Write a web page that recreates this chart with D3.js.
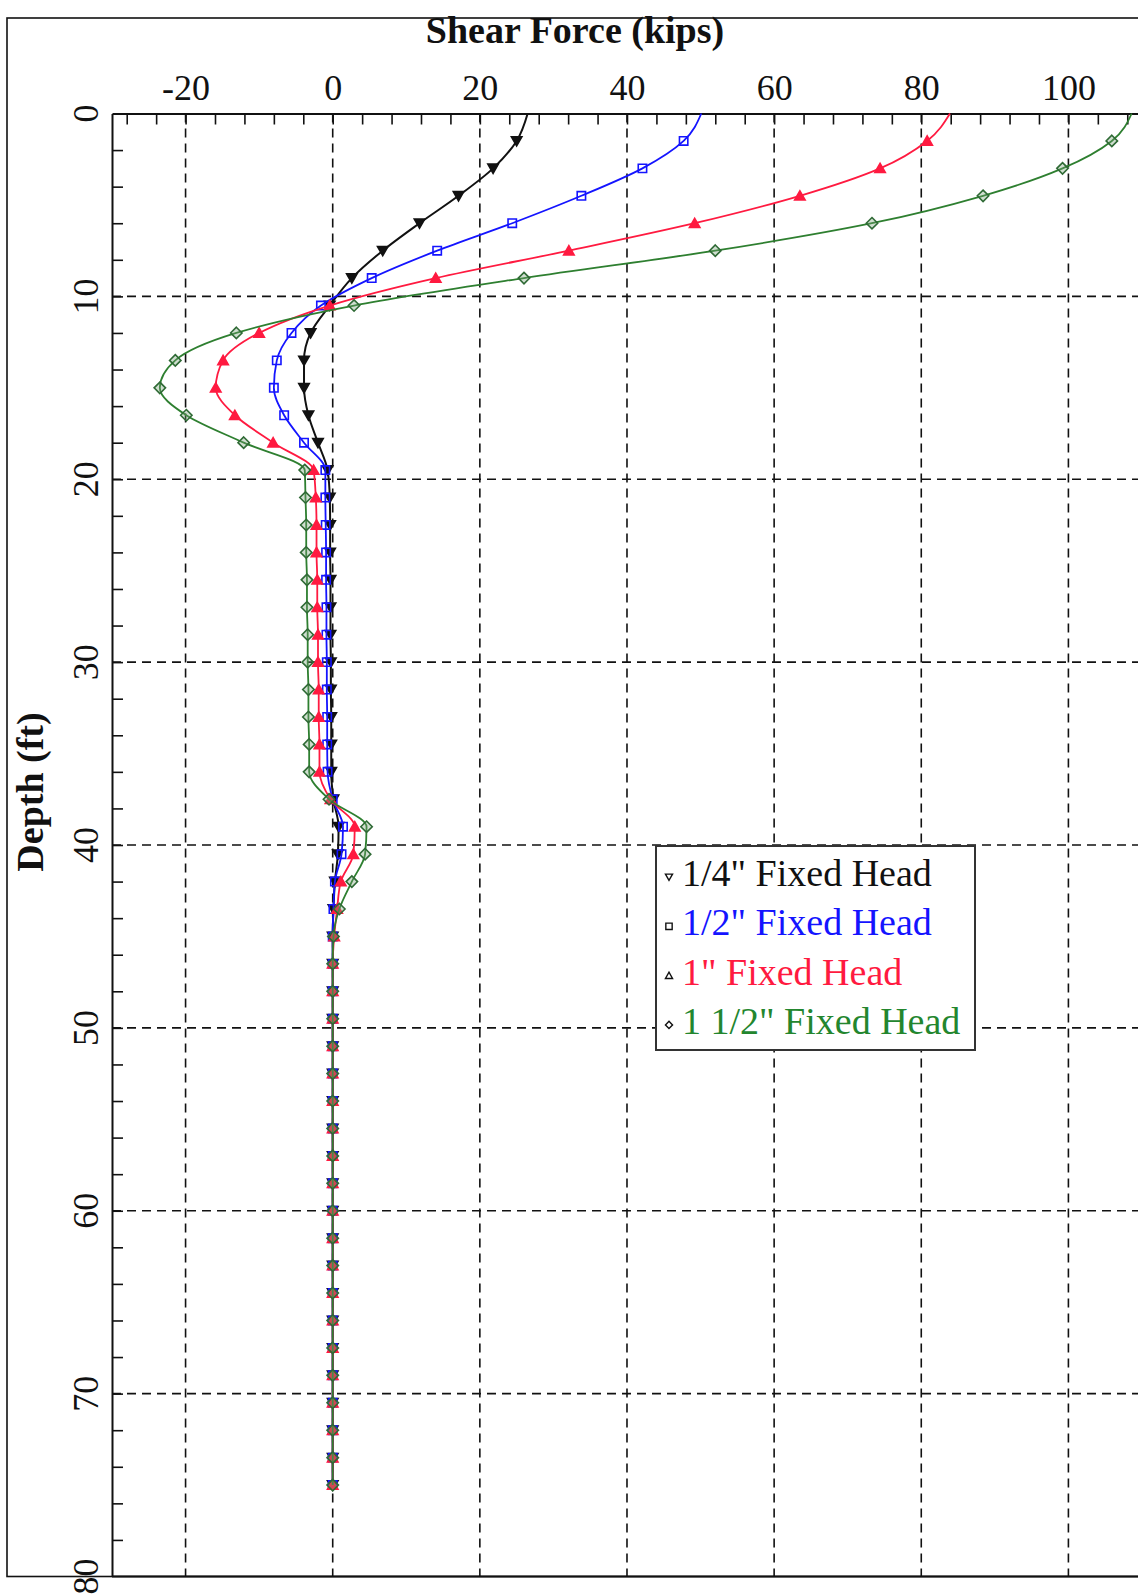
<!DOCTYPE html>
<html>
<head>
<meta charset="utf-8">
<script src="https://cdn.jsdelivr.net/npm/d3@7"></script>
<style>
  html, body { margin: 0; padding: 0; background: #fff; }
  svg { display: block; font-family: "Liberation Serif", "Times New Roman", serif; }
</style>
</head>
<body>
<svg id="chart" width="1138" height="1596"></svg>
<script>
// Depth below pile head (ft) at which shear was reported
const depths = [0, 1.5, 3, 4.5, 6, 7.5, 9, 10.5, 12, 13.5, 15, 16.5, 18, 19.5,
  21, 22.5, 24, 25.5, 27, 28.5, 30, 31.5, 33, 34.5, 36,
  37.5, 39, 40.5, 42, 43.5, 45,
  46.5, 48, 49.5, 51, 52.5, 54, 55.5, 57, 58.5, 60, 61.5, 63, 64.5, 66, 67.5, 69, 70.5, 72, 73.5, 75];

// Shear force (kips) for each head displacement case
const shearQuarter = [26.5, 25.0, 21.8, 17.1, 11.8, 6.8, 2.6, -0.4, -3.0, -3.9, -3.9, -3.3, -2.0, -0.7,
  -0.4, -0.35, -0.35, -0.3, -0.3, -0.3, -0.25, -0.25, -0.2, -0.2, -0.2,
  0.1, 0.8, 0.7, 0.3, 0.1, 0.0,
  0, 0, 0, 0, 0, 0, 0, 0, 0, 0, 0, 0, 0, 0, 0, 0, 0, 0, 0, 0];
const shearHalf = [50.1, 47.7, 42.1, 33.8, 24.4, 14.2, 5.3, -1.6, -5.6, -7.6, -8.0, -6.6, -3.9, -1.0,
  -1.0, -0.95, -0.9, -0.9, -0.85, -0.85, -0.8, -0.8, -0.75, -0.75, -0.7,
  0.0, 1.4, 1.2, 0.3, 0.1, 0.0,
  0, 0, 0, 0, 0, 0, 0, 0, 0, 0, 0, 0, 0, 0, 0, 0, 0, 0, 0, 0];
const shearOne = [83.9, 80.8, 74.4, 63.5, 49.2, 32.1, 14.0, -0.4, -10.0, -14.9, -15.9, -13.3, -8.1, -2.6,
  -2.3, -2.2, -2.2, -2.1, -2.1, -2.0, -2.0, -1.9, -1.9, -1.8, -1.8,
  -0.3, 3.0, 2.8, 1.1, 0.6, 0.2,
  0, 0, 0, 0, 0, 0, 0, 0, 0, 0, 0, 0, 0, 0, 0, 0, 0, 0, 0, 0];
const shearOneHalf = [108.6, 105.9, 99.2, 88.4, 73.3, 52.0, 26.0, 2.9, -13.1, -21.4, -23.5, -19.9, -12.1, -3.8,
  -3.7, -3.6, -3.6, -3.5, -3.5, -3.4, -3.4, -3.3, -3.3, -3.2, -3.2,
  -0.5, 4.6, 4.4, 2.6, 0.9, 0.1,
  0, 0, 0, 0, 0, 0, 0, 0, 0, 0, 0, 0, 0, 0, 0, 0, 0, 0, 0, 0];

const seriesNames = ['1/4" Fixed Head', '1/2" Fixed Head', '1" Fixed Head', '1 1/2" Fixed Head'];

// Axis ticks
const xTickLabels = [-20, 0, 20, 40, 60, 80, 100];
const xMinorTicks = [-28, -24, -20, -16, -12, -8, -4, 0, 4, 8, 12, 16, 20, 24, 28, 32, 36, 40, 44, 48,
  52, 56, 60, 64, 68, 72, 76, 80, 84, 88, 92, 96, 100, 104, 108];
const yTickLabels = [0, 10, 20, 30, 40, 50, 60, 70, 80];
const yMinorTicks = [2, 4, 6, 8, 10, 12, 14, 16, 18, 20, 22, 24, 26, 28, 30, 32, 34, 36, 38, 40,
  42, 44, 46, 48, 50, 52, 54, 56, 58, 60, 62, 64, 66, 68, 70, 72, 74, 76, 78];

(function drawChart() {
  const svg = d3.select('#chart');

  const plotLeft = 112, plotTop = 113.5, plotBottom = 1576.5;
  const x = d3.scaleLinear().domain([-30, 110]).range([plotLeft, plotLeft + 140 * 7.357]);
  const y = d3.scaleLinear().domain([0, 80]).range([plotTop, plotBottom]);

  // Outer figure frame
  svg.append('rect')
    .attr('x', 7).attr('y', 18).attr('width', 1160).attr('height', plotBottom - 18)
    .attr('fill', 'none').attr('stroke', '#111').attr('stroke-width', 1.6);

  // Dashed grid
  const grid = svg.append('g').attr('stroke', '#111').attr('stroke-width', 1.6)
    .attr('stroke-dasharray', '9,6');
  grid.selectAll('line.gx').data(xTickLabels).join('line').attr('class', 'gx')
    .attr('x1', d => x(d)).attr('x2', d => x(d))
    .attr('y1', plotTop).attr('y2', plotBottom);
  grid.selectAll('line.gy').data(yTickLabels.filter(d => d > 0 && d < 80)).join('line').attr('class', 'gy')
    .attr('y1', d => y(d)).attr('y2', d => y(d))
    .attr('x1', plotLeft).attr('x2', x(110));

  // Top axis: inward ticks every 4 kips, labels at the grid lines
  const topAxis = svg.append('g').attr('transform', `translate(0,${plotTop})`)
    .call(d3.axisTop(x).tickValues(xMinorTicks).tickSizeInner(-11).tickSizeOuter(0).tickFormat(''));
  topAxis.select('.domain').attr('stroke', '#111').attr('stroke-width', 2);
  topAxis.selectAll('.tick line').attr('stroke', '#111').attr('stroke-width', 1.6);

  const topLabels = svg.append('g').attr('transform', `translate(0,${plotTop})`)
    .call(d3.axisTop(x).tickValues(xTickLabels).tickSize(0).tickPadding(13.5)
      .tickFormat(d => d < 0 ? '-' + Math.abs(d) : String(d)));
  topLabels.select('.domain').remove();
  topLabels.selectAll('text').attr('font-size', 36).attr('fill', '#111')
    .attr('font-family', '"Liberation Serif", "Times New Roman", serif');

  // Left axis: inward ticks every 2 ft
  const leftAxis = svg.append('g').attr('transform', `translate(${plotLeft},0)`)
    .call(d3.axisLeft(y).tickValues(yMinorTicks).tickSizeInner(-11).tickSizeOuter(0).tickFormat(''));
  leftAxis.select('.domain').attr('stroke', '#111').attr('stroke-width', 2);
  leftAxis.selectAll('.tick line').attr('stroke', '#111').attr('stroke-width', 1.6);

  // Bottom edge of the plot
  svg.append('line').attr('x1', plotLeft).attr('x2', 1140).attr('y1', plotBottom).attr('y2', plotBottom)
    .attr('stroke', '#111').attr('stroke-width', 2);

  // Rotated depth labels
  svg.append('g').selectAll('text').data(yTickLabels).join('text')
    .attr('transform', d => `translate(98,${y(d)}) rotate(-90)`)
    .attr('text-anchor', 'middle')
    .attr('font-size', 36).attr('fill', '#111')
    .text(d => d);

  // Axis titles
  svg.append('text')
    .attr('x', 575).attr('y', 43).attr('text-anchor', 'middle')
    .attr('font-size', 38).attr('font-weight', 'bold').attr('fill', '#111')
    .text('Shear Force (kips)');
  svg.append('text')
    .attr('transform', 'translate(43,792) rotate(-90)').attr('text-anchor', 'middle')
    .attr('font-size', 38).attr('font-weight', 'bold').attr('fill', '#111')
    .text('Depth (ft)');

  // Marker shapes
  const symDown = {
    draw(ctx, size) {
      const r = Math.sqrt(size) / 2;
      ctx.moveTo(-r, -r * 0.8); ctx.lineTo(r, -r * 0.8); ctx.lineTo(0, r * 0.95); ctx.closePath();
    }
  };
  const symUp = {
    draw(ctx, size) {
      const r = Math.sqrt(size) / 2;
      ctx.moveTo(-r, r * 0.8); ctx.lineTo(r, r * 0.8); ctx.lineTo(0, -r * 0.95); ctx.closePath();
    }
  };
  const symDiamond = {
    draw(ctx, size) {
      const r = Math.sqrt(size) / 2;
      ctx.moveTo(0, -r); ctx.lineTo(r, 0); ctx.lineTo(0, r); ctx.lineTo(-r, 0); ctx.closePath();
    }
  };

  const series = [
    { name: seriesNames[0], values: shearQuarter, color: '#111111', marker: symDown, size: 110,
      fill: '#111111', mstroke: '#111111', text: '#111111', width: 2 },
    { name: seriesNames[1], values: shearHalf, color: '#1414ff', marker: d3.symbolSquare, size: 70,
      fill: 'none', mstroke: '#1414ff', text: '#1414ff', width: 1.8 },
    { name: seriesNames[2], values: shearOne, color: '#ff1a40', marker: symUp, size: 110,
      fill: '#ff1a40', mstroke: '#ff1a40', text: '#ff1a40', width: 1.8 },
    { name: seriesNames[3], values: shearOneHalf, color: '#2e7f30', marker: symDiamond, size: 130,
      fill: 'rgba(120,160,120,0.35)', mstroke: '#2f6a35', text: '#23862e', width: 1.8 }
  ];

  const line = d3.line()
    .x(d => x(d.v)).y(d => y(d.depth))
    .curve(d3.curveMonotoneY);

  series.forEach(s => {
    const pts = depths.map((depth, i) => ({ depth, v: s.values[i] }));
    const g = svg.append('g');
    g.append('path').datum(pts).attr('d', line)
      .attr('fill', 'none').attr('stroke', s.color).attr('stroke-width', s.width);
    // markers start below the pile head
    g.selectAll('path.m').data(pts.filter(d => d.depth > 0)).join('path').attr('class', 'm')
      .attr('transform', d => `translate(${x(d.v)},${y(d.depth)})`)
      .attr('d', d3.symbol(s.marker, s.size))
      .attr('fill', s.fill).attr('stroke', s.mstroke).attr('stroke-width', 1.6);
  });

  // Legend
  const legend = svg.append('g');
  legend.append('rect')
    .attr('x', 656).attr('y', 846).attr('width', 319).attr('height', 204)
    .attr('fill', '#fff').attr('stroke', '#333').attr('stroke-width', 2);
  const legendMarkers = [symDown, d3.symbolSquare, symUp, symDiamond];
  series.forEach((s, i) => {
    const base = 886 + i * 49.3;
    legend.append('path')
      .attr('transform', `translate(669,${base - 9})`)
      .attr('d', d3.symbol(legendMarkers[i], i === 1 ? 40 : 50))
      .attr('fill', 'none').attr('stroke', '#111').attr('stroke-width', 1.4);
    legend.append('text')
      .attr('x', 682).attr('y', base)
      .attr('font-size', 38).attr('fill', s.text)
      .text(s.name);
  });
})();
</script>
</body>
</html>
